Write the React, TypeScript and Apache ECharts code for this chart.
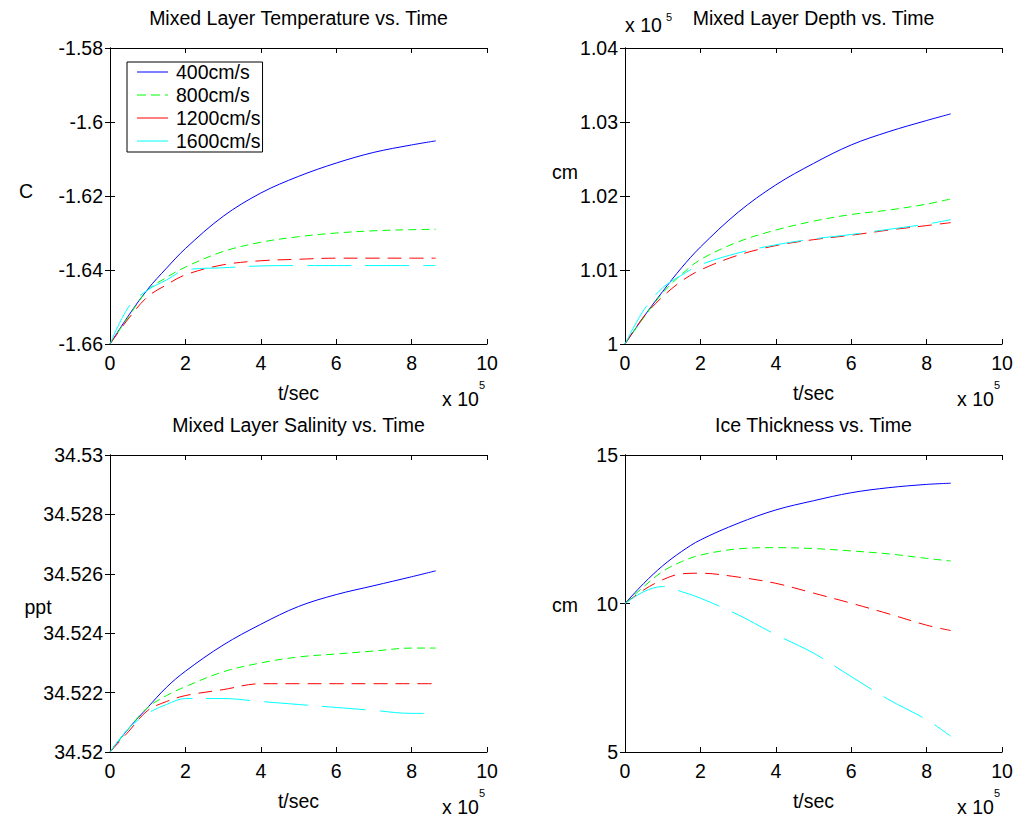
import React, { useEffect, useRef } from "react";
import * as echarts from "echarts";

// time axis, units of 1e5 s
const tX = [0, 0.5, 1, 1.5, 2, 3, 4, 5, 6, 7, 8, 8.64];
const speeds = ["400cm/s", "800cm/s", "1200cm/s", "1600cm/s"];
const colors = ["#0000ff", "#00ff00", "#ff0000", "#00ffff"];

// Mixed layer temperature (C)
const temp400 = [-1.66, -1.6522, -1.6452, -1.6395, -1.6342, -1.6255, -1.6192, -1.6147, -1.6111, -1.6082, -1.6062, -1.6051];
const temp800 = [-1.66, -1.6525, -1.6455, -1.642, -1.6392, -1.635, -1.6325, -1.631, -1.63, -1.6294, -1.6291, -1.629];
const temp1200 = [-1.66, -1.653, -1.6472, -1.644, -1.6413, -1.6386, -1.6375, -1.6371, -1.6368, -1.6368, -1.6368, -1.6368];
const temp1600 = [-1.66, -1.6499, -1.6454, -1.6427, -1.64, -1.6394, -1.6389, -1.6388, -1.6388, -1.6388, -1.6388, -1.6388];

// Mixed layer depth (cm, x 1e5)
const depth400 = [1.0, 1.0037, 1.0071, 1.0103, 1.0131, 1.0178, 1.0215, 1.0244, 1.0269, 1.0287, 1.0302, 1.0311];
const depth800 = [1.0, 1.0036, 1.0069, 1.0094, 1.0114, 1.0138, 1.0154, 1.0166, 1.0175, 1.0181, 1.0189, 1.0196];
const depth1200 = [1.0, 1.0037, 1.0064, 1.0085, 1.01, 1.012, 1.0133, 1.0141, 1.0147, 1.0154, 1.016, 1.0164];
const depth1600 = [1.0, 1.0046, 1.0076, 1.0093, 1.0107, 1.0123, 1.0134, 1.0142, 1.0148, 1.0155, 1.0162, 1.0168];

// Mixed layer salinity (ppt)
const sal400 = [34.52, 34.5208, 34.5215, 34.52218, 34.52272, 34.5236, 34.5243, 34.5249, 34.5253, 34.5256, 34.5259, 34.5261];
const sal800 = [34.52, 34.5208, 34.5215, 34.5219, 34.5222, 34.5227, 34.523, 34.5232, 34.5233, 34.5234, 34.5235, 34.5235];
const sal1200 = [34.52, 34.5207, 34.5214, 34.5217, 34.5219, 34.5221, 34.5223, 34.5223, 34.5223, 34.5223, 34.5223, 34.5223];
const sal1600 = [34.52, 34.5208, 34.5213, 34.5216, 34.5218, 34.5218, 34.5217, 34.5216, 34.5215, 34.5214, 34.5213, 34.5213];

// Ice thickness (cm)
const ice400 = [10, 10.68, 11.27, 11.75, 12.14, 12.7, 13.15, 13.46, 13.73, 13.9, 14.01, 14.05];
const ice800 = [10, 10.57, 11.08, 11.41, 11.63, 11.84, 11.88, 11.85, 11.77, 11.67, 11.52, 11.43];
const ice1200 = [10, 10.46, 10.8, 11.0, 11.02, 10.89, 10.68, 10.35, 10.01, 9.65, 9.27, 9.09];
const ice1600 = [10, 10.4, 10.57, 10.4, 10.18, 9.62, 8.95, 8.33, 7.54, 6.76, 6.09, 5.53];

const titles = ["Mixed Layer Temperature vs. Time", "Mixed Layer Depth vs. Time", "Mixed Layer Salinity vs. Time", "Ice Thickness vs. Time"];
const yMins = [-1.66, 1.0, 34.52, 5];
const yMaxs = [-1.58, 1.04, 34.53, 15];
const yIntervals = [0.02, 0.01, 0.002, 5];
const xTicks = { min: 0, max: 10, interval: 2 };
const panelData = [
  [temp400, temp800, temp1200, temp1600],
  [depth400, depth800, depth1200, depth1600],
  [sal400, sal800, sal1200, sal1600],
  [ice400, ice800, ice1200, ice1600],
];

const FONT = '"Liberation Sans", Arial, Helvetica, sans-serif';
const FS = 19.5;

const grids = [
  { left: 110, top: 48, width: 377, height: 296 },
  { left: 625, top: 48, width: 377, height: 296 },
  { left: 110, top: 455, width: 377, height: 297 },
  { left: 625, top: 455, width: 377, height: 297 },
];
const dashes: any[] = ["solid", [8, 5], [14, 8], [44, 14]];
const SOLID_ICON = "path://M0,0h31v1h-31z";
const DASH_ICON = "path://M0,0h9v1h-9z M14,0h9v1h-9z M28,0h3v1h-3z";

function txt(text: string, x: number, y: number, align = "center", size = FS) {
  return {
    type: "text",
    x,
    y,
    silent: true,
    style: {
      text,
      fill: "#000",
      font: `${size}px ${FONT}`,
      fontSize: size,
      fontFamily: FONT,
      textAlign: align,
      align,
      textVerticalAlign: "middle",
      verticalAlign: "middle",
    },
  };
}

export default function App() {
  const ref = useRef<HTMLDivElement>(null);
  useEffect(() => {
    if (!ref.current) return;
    const chart = echarts.init(ref.current, undefined, { renderer: "svg" });
    const axisLine = { show: true, lineStyle: { color: "#000", width: 1 } };
    const axisTick = { show: true, inside: true, length: 5, lineStyle: { color: "#000", width: 1 } };
    const fmt = (v: number) => String(Number(v.toFixed(4)));
    const xAxis: any[] = [];
    const yAxis: any[] = [];
    const series: any[] = [];
    const graphic: any[] = [];
    grids.forEach((g, i) => {
      xAxis.push({
        type: "value", gridIndex: i, position: "bottom", ...xTicks,
        axisLine, axisTick, splitLine: { show: false },
        axisLabel: { color: "#000", fontSize: FS, fontFamily: FONT, margin: 9, formatter: fmt },
      });
      xAxis.push({
        type: "value", gridIndex: i, position: "top", ...xTicks,
        axisLine, axisTick, splitLine: { show: false }, axisLabel: { show: false },
      });
      yAxis.push({
        type: "value", gridIndex: i, position: "left", min: yMins[i], max: yMaxs[i], interval: yIntervals[i],
        axisLine, axisTick, splitLine: { show: false },
        axisLabel: { color: "#000", fontSize: FS, fontFamily: FONT, margin: 7, formatter: fmt },
      });
      yAxis.push({
        type: "value", gridIndex: i, position: "right", min: yMins[i], max: yMaxs[i], interval: yIntervals[i],
        axisLine, axisTick, splitLine: { show: false }, axisLabel: { show: false },
      });
      panelData[i].forEach((vals, k) => {
        series.push({
          type: "line",
          name: speeds[k],
          xAxisIndex: 2 * i,
          yAxisIndex: 2 * i,
          data: tX.map((t, j) => [t, vals[j]]),
          symbol: "none",
          showSymbol: false,
          smooth: 0.35,
          lineStyle: { color: colors[k], width: 1, type: dashes[k] },
          itemStyle: { color: colors[k] },
        });
      });
      const cx = g.left + g.width / 2;
      const bottom = g.top + g.height;
      const right = g.left + g.width;
      graphic.push(txt(titles[i], cx, g.top - 30));
      graphic.push(txt("t/sec", cx, bottom + 48.5));
      graphic.push(txt("x 10", right - 45, bottom + 54.5, "left"));
      graphic.push(txt("5", right - 8, bottom + 40.5, "left", 11));
    });
    graphic.push(txt("C", 26, 191));
    graphic.push(txt("cm", 565, 172));
    graphic.push(txt("ppt", 38, 607));
    graphic.push(txt("cm", 565, 605));
    graphic.push(txt("x 10", 625, 25, "left"));
    graphic.push(txt("5", 666, 17, "left", 11));

    chart.setOption({
      animation: false,
      backgroundColor: "#fff",
      textStyle: { fontFamily: FONT },
      grid: grids.map((g) => ({ ...g, containLabel: false })),
      xAxis,
      yAxis,
      series,
      legend: {
        orient: "vertical",
        left: 127,
        top: 62,
        backgroundColor: "#fff",
        borderColor: "#000",
        borderWidth: 1,
        borderRadius: 0,
        padding: [0, 2, 1, 10],
        itemWidth: 31,
        itemHeight: 14,
        itemGap: 3,
        symbolKeepAspect: true,
        selectedMode: false,
        textStyle: { color: "#000", fontSize: FS, fontFamily: FONT, lineHeight: 20, padding: [0, 0, 0, 3] },
        data: speeds.map((s, k) => ({
          name: s,
          icon: k === 1 ? DASH_ICON : SOLID_ICON,
          itemStyle: { color: colors[k], borderWidth: 0 },
        })),
      },
      graphic,
    });
    return () => chart.dispose();
  }, []);
  return (
    <div
      ref={ref}
      style={{ position: "absolute", left: 0, top: 0, width: 1016, height: 818, background: "#fff" }}
    />
  );
}
